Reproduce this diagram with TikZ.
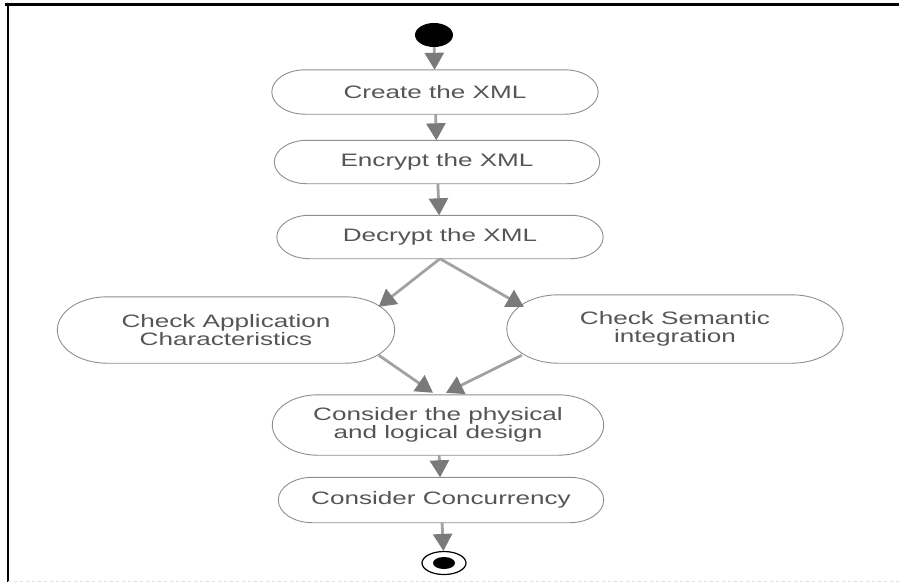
\documentclass[tikz,border=0pt]{standalone}
\usepackage{fontspec}
\usepackage{tikz}
\usetikzlibrary{shapes,arrows,arrows.meta,positioning,calc}

\newfontfamily\actfont[FakeStretch=1.45]{Liberation Sans}
\definecolor{textgray}{HTML}{555555}
\definecolor{linegray}{HTML}{8E8E8E}
\definecolor{shaftgray}{HTML}{A2A2A2}
\definecolor{headgray}{HTML}{7A7A7A}

\begin{document}
\begin{tikzpicture}[
    x=1pt, y=-1pt,
    act node/.style={rectangle,inner sep=0pt,align=center,text=textgray,
        font={\actfont\fontsize{18}{18.5}\selectfont}},
    outline/.style={draw=linegray,line width=0.9pt},
    start node/.style={ellipse,fill=black,inner sep=0pt,minimum width=38pt,minimum height=24pt},
    end node/.style={ellipse,draw=black,line width=1.2pt,inner sep=0pt,minimum width=44pt,minimum height=23pt},
    flow/.style={draw=shaftgray,line width=2.8pt,-{Triangle[width=19pt,length=17pt,color=headgray]}}
]
\useasboundingbox (0,0) rectangle (899,582);

% Frame
\draw[black,line width=2.5pt] (5,4.5) -- (899,4.5);
\draw[black,line width=2.5pt] (8,4) -- (8,582);
\draw[gray!25,line width=1pt,dashed] (8,581) -- (899,581);

% Start
\node[start node] (start) at (434,35) {};

% Activities
\node[act node, minimum width=326pt, minimum height=44pt] (create) at (435,92) {Create the XML};
\node[act node, minimum width=325pt, minimum height=43pt] (encrypt) at (437,162) {Encrypt the XML};
\node[act node, minimum width=326pt, minimum height=43pt] (decrypt) at (440,237) {Decrypt the XML};
\node[act node, minimum width=337pt, minimum height=66pt] (app) at (226,330) {Check Application\\Characteristics};
\node[act node, minimum width=336pt, minimum height=68pt] (sem) at (675,329) {Check Semantic\\integration};
\node[act node, minimum width=331pt, minimum height=60pt] (phys) at (438,425) {Consider the physical\\and logical design};
\node[act node, minimum width=325pt, minimum height=45pt] (conc) at (441,500) {Consider Concurrency};

% End
\node[end node] (end) at (444,563) {};
\node[ellipse,fill=black,inner sep=0pt,minimum width=22pt,minimum height=12pt] (endcore) at (end) {};

% Outlines
\foreach \act in {create,encrypt,decrypt,app,sem,phys,conc}
  \draw[outline] let \p1=(\act.north east), \p2=(\act.south west),
      \n1={(\y1-\y2)/2}, \n2={1.5*\n1} in
    (\x2+\n2,\y1) -- (\x1-\n2,\y1)
    arc[start angle=90, end angle=-90, x radius=\n2, y radius=\n1]
    -- (\x2+\n2,\y2)
    arc[start angle=270, end angle=90, x radius=\n2, y radius=\n1] -- cycle;

% Fork and join points
\coordinate (appin) at ($(app.north east)+(-16,10)$);
\coordinate (semin) at ($(sem.north west)+(17,12)$);
\coordinate (appout) at ($(app.south east)+(-16,-8)$);
\coordinate (semout) at ($(sem.south west)+(15,-8)$);
\coordinate (physin1) at ($(phys.north)+(-5,-2)$);
\coordinate (physin2) at ($(phys.north)+(8,-2)$);

% Arrows
\draw[flow] (start) -- (create);
\draw[flow] (create) -- (encrypt);
\draw[flow] (encrypt) -- (decrypt);
\draw[flow] (decrypt.south) -- (appin);
\draw[flow] (decrypt.south) -- (semin);
\draw[flow] (appout) -- (physin1);
\draw[flow] (semout) -- (physin2);
\draw[flow] (phys) -- (conc);
\draw[flow] (conc) -- (end);

\end{tikzpicture}
\end{document}
